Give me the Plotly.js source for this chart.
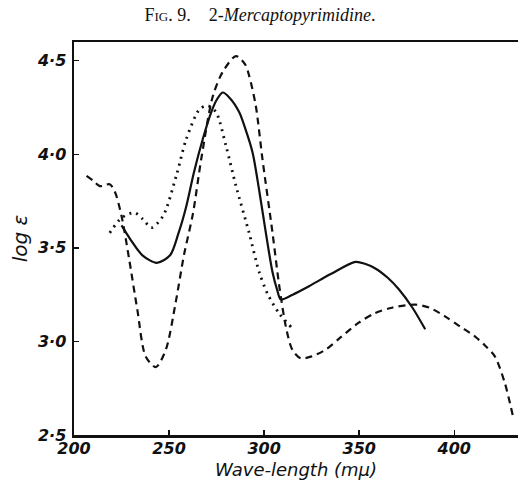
<!DOCTYPE html>
<html><head><meta charset="utf-8">
<script src="https://cdn.plot.ly/plotly-3.0.1.min.js"></script>
<style>body{margin:0;background:#fff}#c{width:520px;height:486px}</style>
</head><body><div id="c"></div>
<script>
// Solid curve
const solidX = [225, 230, 236, 243.5, 250.5, 255, 259, 263, 267.7, 272, 275, 278.2, 282, 286.9, 290, 293.9, 297.5, 300.9, 304.4, 307, 308.7, 315, 323.6, 335, 348, 353, 358.5, 365, 370.7, 378, 384.7];
const solidY = [3.62, 3.54, 3.46, 3.42, 3.46, 3.58, 3.72, 3.9, 4.08, 4.22, 4.29, 4.33, 4.3, 4.225, 4.14, 4.01, 3.8, 3.58, 3.37, 3.27, 3.225, 3.25, 3.295, 3.36, 3.425, 3.415, 3.39, 3.34, 3.28, 3.18, 3.065];
// Dashed curve
const dashX = [206.6, 210, 213.6, 218.8, 221.5, 225, 229, 233.3, 237.7, 243, 248.3, 253.5, 257.9, 262.5, 267, 273, 278.2, 285.2, 290, 292.1, 295.6, 299.1, 304.4, 307.9, 311.4, 314.8, 319.2, 325, 332.3, 340, 349.7, 358, 367.2, 379.4, 387, 395.1, 403, 410.8, 416, 421.3, 426.6, 430.9];
const dashY = [3.885, 3.86, 3.83, 3.84, 3.8, 3.67, 3.44, 3.17, 2.92, 2.863, 2.956, 3.21, 3.465, 3.68, 3.98, 4.31, 4.44, 4.525, 4.48, 4.42, 4.26, 3.975, 3.58, 3.3, 3.08, 2.956, 2.91, 2.92, 2.956, 3.02, 3.1, 3.15, 3.18, 3.197, 3.18, 3.134, 3.08, 3.027, 2.98, 2.92, 2.777, 2.598];
// Dotted curve
const dotX = [218.8, 225, 231.9, 236.3, 240.7, 246.8, 253.8, 259, 266, 270.3, 274.7, 279.9, 285.2, 292.1, 297.4, 302, 307.9, 314.8];
const dotY = [3.58, 3.66, 3.688, 3.653, 3.608, 3.67, 3.885, 4.08, 4.24, 4.26, 4.225, 4.046, 3.83, 3.58, 3.37, 3.25, 3.15, 3.07];
// Tick labels
const xTickVals = [200, 250, 300, 350, 400];
const xTickText = ['200', '250', '300', '350', '400'];
const yTickVals = [2.5, 3.0, 3.5, 4.0, 4.5];
const yTickText = ['2·5', '3·0', '3·5', '4·0', '4·5'];

const ink = '#111';
const traces = [
  {x: solidX, y: solidY, mode: 'lines', line: {color: ink, width: 2.2, shape: 'spline', smoothing: 0.8}},
  {x: dashX, y: dashY, mode: 'lines', line: {color: ink, width: 2.2, dash: '7px,5px', shape: 'spline', smoothing: 0.8}},
  {x: dotX, y: dotY, mode: 'lines', line: {color: ink, width: 2.8, dash: '2px,5px', shape: 'spline', smoothing: 0.8}}
];
const tickFont = {family: 'DejaVu Sans, sans-serif', size: 16, color: ink, weight: 'bold', style: 'italic'};
const layout = {
  width: 520, height: 486,
  margin: {l: 74, r: 2, t: 42, b: 51},
  paper_bgcolor: '#fff', plot_bgcolor: '#fff',
  showlegend: false,
  title: {text: 'F<span style="font-size:13px">IG</span>. 9.    2-<i>Mercaptopyrimidine</i>.', x: 0.5, xanchor: 'center', y: 0.97, yanchor: 'middle',
          font: {family: 'Liberation Serif, DejaVu Serif, serif', size: 18, color: ink}},
  xaxis: {range: [200, 433.5], tickvals: xTickVals, ticktext: xTickText, ticks: 'inside', ticklen: 5, tickwidth: 1.5, tickcolor: ink,
          showline: true, linewidth: 2.5, linecolor: ink, mirror: true, showgrid: false, zeroline: false,
          tickfont: tickFont, ticklabelstandoff: -3,
          title: {text: 'Wave-length (mμ)', standoff: 7, font: {family: 'DejaVu Sans, sans-serif', size: 18, color: ink, style: 'italic'}}},
  yaxis: {range: [2.5, 4.6], tickvals: yTickVals, ticktext: yTickText, ticks: 'inside', ticklen: 5, tickwidth: 1.5, tickcolor: ink,
          showline: true, linewidth: 2.5, linecolor: ink, showgrid: false, zeroline: false,
          tickfont: tickFont, ticklabelstandoff: 2,
          title: {text: 'log ε', standoff: 4, font: {family: 'DejaVu Sans, sans-serif', size: 20, color: ink, style: 'italic'}}}
};
Plotly.newPlot('c', traces, layout, {displayModeBar: false, staticPlot: true});
</script>
</body></html>
